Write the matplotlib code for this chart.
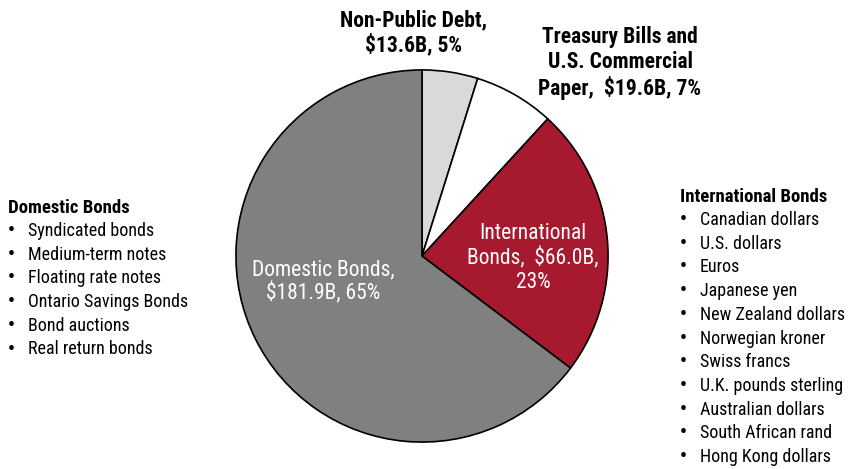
import matplotlib
matplotlib.use("Agg")
import matplotlib.pyplot as plt

# Debt composition ($B)
labels = ["Non-Public Debt", "Treasury Bills and U.S. Commercial Paper",
          "International Bonds", "Domestic Bonds"]
values = [13.6, 19.6, 66.0, 181.9]
colors = ["#d9d9d9", "#ffffff", "#a6192e", "#808080"]

domestic_items = ["Syndicated bonds", "Medium-term notes", "Floating rate notes",
                  "Ontario Savings Bonds", "Bond auctions", "Real return bonds"]
international_items = ["Canadian dollars", "U.S. dollars", "Euros", "Japanese yen",
                       "New Zealand dollars", "Norwegian kroner", "Swiss francs",
                       "U.K. pounds sterling", "Australian dollars",
                       "South African rand", "Hong Kong dollars"]

plt.rcParams['font.family'] = ['Roboto Condensed', 'Liberation Sans', 'DejaVu Sans']

W, H = 848, 469
fig = plt.figure(figsize=(W / 100, H / 100), dpi=100)

# pie axes: centre (422, 256), radius 187 px
cx, cy, r = 422, 256, 187
ax = fig.add_axes([(cx - r) / W, (H - cy - r) / H, 2 * r / W, 2 * r / H])
ax.pie(values, colors=colors, startangle=90, counterclock=False,
       wedgeprops=dict(edgecolor="black", linewidth=1.2))
ax.set_xlim(-1.005, 1.005)
ax.set_ylim(-1.005, 1.005)
ax.set_aspect("equal")
ax.axis("off")


def px_text(x, y, s, **kw):
    fig.text(x / W, 1 - y / H, s, **kw)


total = sum(values)
pct = [round(v / total * 100) for v in values]

px_text(414, 33, f"Non-Public Debt,\n${values[0]:.1f}B, {pct[0]}%", ha="center",
        va="center", fontsize=15.5, fontweight="bold", linespacing=1.15)
px_text(620, 63, f"Treasury Bills and\nU.S. Commercial\nPaper,  ${values[1]:.1f}B, {pct[1]}%",
        ha="center", va="center", fontsize=15.5, fontweight="bold", linespacing=1.15)
px_text(533, 258, f"International\nBonds,  ${values[2]:.1f}B,\n{pct[2]}%", ha="center",
        va="center", fontsize=15.5, color="white", linespacing=1.15)
px_text(323, 282, f"Domestic Bonds,\n${values[3]:.1f}B, {pct[3]}%", ha="center",
        va="center", fontsize=15.5, color="white", linespacing=1.15)

step = 23.7
px_text(8, 208, "Domestic Bonds", ha="left", va="center", fontsize=13.5, fontweight="bold")
for i, item in enumerate(domestic_items):
    y = 231 + i * step
    px_text(8, y, "\u2022", ha="left", va="center", fontsize=14, fontweight="bold")
    px_text(28, y, item, ha="left", va="center", fontsize=13)

px_text(680, 197, "International Bonds", ha="left", va="center", fontsize=13.5, fontweight="bold")
for i, item in enumerate(international_items):
    y = 220 + i * step
    px_text(680, y, "\u2022", ha="left", va="center", fontsize=14, fontweight="bold")
    px_text(700, y, item, ha="left", va="center", fontsize=13)

fig.savefig("out.png", dpi=100)
